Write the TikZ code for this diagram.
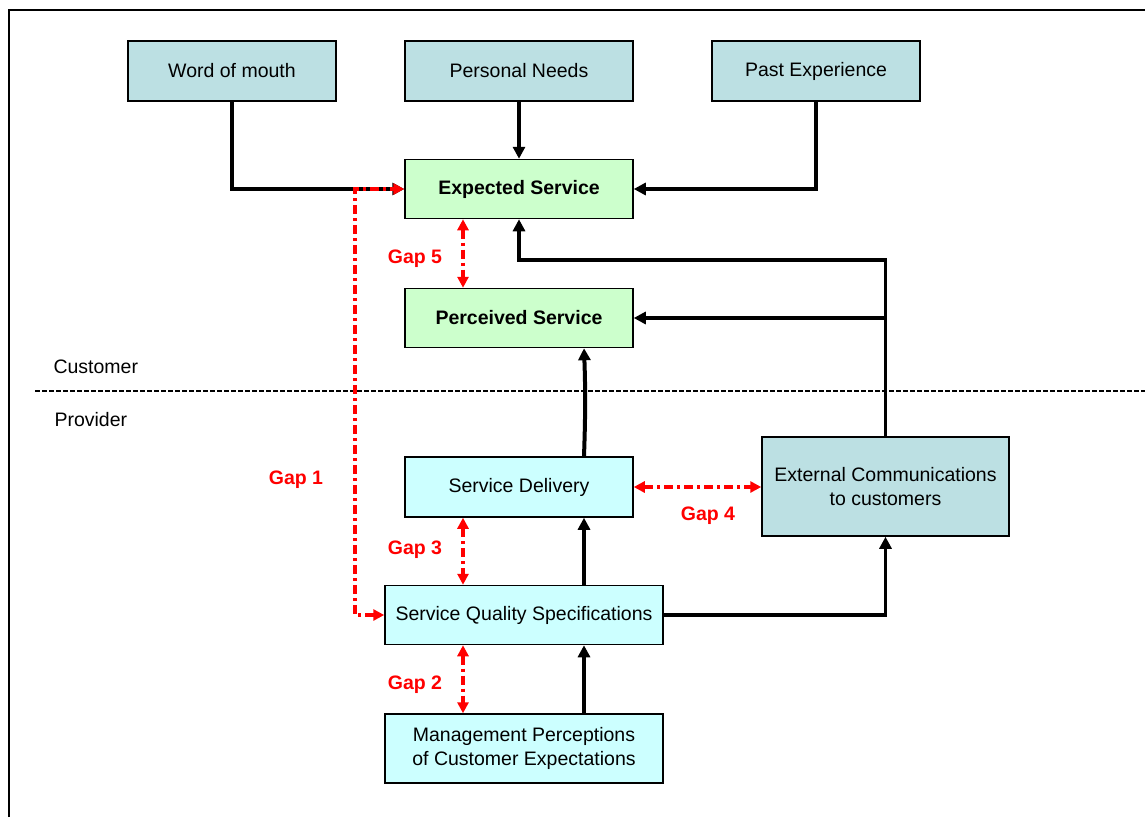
\documentclass[tikz,border=0pt]{standalone}
\usepackage{fontspec}
\setmainfont{Liberation Sans}
\usetikzlibrary{arrows.meta}

\definecolor{boxteal}{HTML}{BCE0E3}
\definecolor{boxgreen}{HTML}{CCFFCC}
\definecolor{boxcyan}{HTML}{CCFFFF}

\tikzset{
    box/.style = {draw, line width=1.5pt, inner sep=0pt, align=center,
                  font=\fontsize{19.5}{24}\selectfont},
    flow/.style = {line width=3.2pt, -{Triangle[length=12pt,width=12pt]}},
    gap/.style = {red, line width=3.2pt, dash pattern=on 9pt off 4pt on 3pt off 4pt,
                  {Triangle[length=11pt,width=11pt]}-{Triangle[length=11pt,width=11pt]}},
    gaplabel/.style = {red, font=\fontsize{19.5}{24}\selectfont\bfseries},
}

\begin{document}
\begin{tikzpicture}[x=1pt, y=-1pt]
    \useasboundingbox (0,0) rectangle (1145,817);
    \draw[line width=1.8pt] (9,817) -- (9,10) -- (1145,10);

    \node[box, fill=boxteal, minimum width=208pt, minimum height=60pt] (wom)  at (232,71)  {Word of mouth};
    \node[box, fill=boxteal, minimum width=228pt, minimum height=60pt] (need) at (519,71)  {Personal Needs};
    \node[box, fill=boxteal, minimum width=208pt, minimum height=60pt] (past) at (816,71)  {Past Experience};

    \node[box, fill=boxgreen, minimum width=228pt, minimum height=59pt, font=\fontsize{19.5}{24}\selectfont\bfseries] (exp)  at (519,189) {Expected Service};
    \node[box, fill=boxgreen, minimum width=228pt, minimum height=59pt, font=\fontsize{19.5}{24}\selectfont\bfseries] (perc) at (519,318) {Perceived Service};

    \node[box, fill=boxcyan, minimum width=228pt, minimum height=60pt] (deliv) at (519,487)   {Service Delivery};
    \node[box, fill=boxteal, minimum width=247pt, minimum height=99pt] (ext)   at (885.5,486.5) {External Communications\\to customers};
    \node[box, fill=boxcyan, minimum width=278pt, minimum height=59pt] (spec)  at (524,615) {Service Quality Specifications};
    \node[box, fill=boxcyan, minimum width=278pt, minimum height=69pt] (mgmt)  at (524,748.5) {Management Perceptions\\of Customer Expectations};

    \node[anchor=west, font=\fontsize{19.5}{24}\selectfont] (cust) at (50,367) {Customer};
    \node[anchor=west, font=\fontsize{19.5}{24}\selectfont] (prov) at (51,420) {Provider};
    \draw[line width=1.6pt, dash pattern=on 5pt off 2pt] (35,391) -- (1145,391);

    \coordinate (cx)   at (584,0);
    \coordinate (gx)   at (463,0);
    \coordinate (g1)   at (355,0);
    \coordinate (bend) at (0,260);

    \draw[flow] (wom.south) |- (exp.west);
    \draw[flow] (need.south) -- (exp.north);
    \draw[flow] (past.south) |- (exp.east);
    \draw[flow] (ext.north) -- (ext.north |- bend) -| (exp.south);
    \draw[flow] (ext.north |- perc.east) -- (perc.east);
    \draw[flow, line width=4pt] (cx |- deliv.north) to[bend right=2] (cx |- perc.south);
    \draw[flow] (cx |- spec.north) -- (cx |- deliv.south);
    \draw[flow] (cx |- mgmt.north) -- (cx |- spec.south);
    \draw[flow] (spec.east) -| (ext.south);

    \draw[gap] (spec.west) -- (g1 |- spec.west) -- (g1 |- exp.west) -- (exp.west);
    \draw[gap] (gx |- exp.south) -- (gx |- perc.north);
    \draw[gap] (gx |- deliv.south) -- (gx |- spec.north);
    \draw[gap] (gx |- spec.south) -- (gx |- mgmt.north);
    \draw[gap] (deliv.east) -- (ext.west |- deliv.east);

    \node[gaplabel] (gap1) at (296,480) {Gap 1};
    \node[gaplabel] (gap2) at (415,685) {Gap 2};
    \node[gaplabel] (gap3) at (415,550) {Gap 3};
    \node[gaplabel] (gap4) at (708,516) {Gap 4};
    \node[gaplabel] (gap5) at (415,259) {Gap 5};
\end{tikzpicture}
\end{document}
